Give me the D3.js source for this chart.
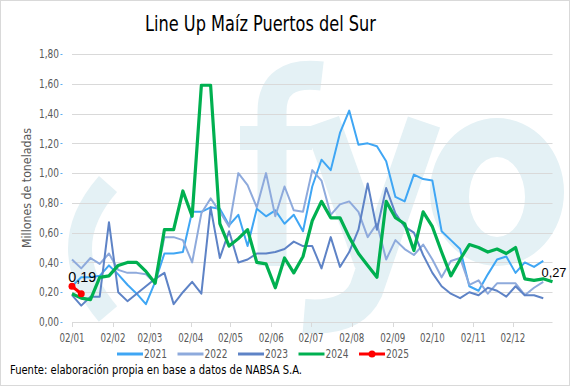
<!DOCTYPE html>
<html>
<head>
<meta charset="utf-8">
<script src="https://cdnjs.cloudflare.com/ajax/libs/d3/7.8.5/d3.min.js"></script>
<style>
  body { margin: 0; background: #fff; }
  svg { display: block; }
</style>
</head>
<body>
<div id="chart"></div>
<script>
const years = ["2021", "2022", "2023", "2024", "2025"];
const colors = ["#3fa6f4", "#8eaadc", "#5e83c6", "#00b050", "#ff0000"];
const widths = [2, 2, 2, 3.2, 3];
const tickLabels = ["02/01", "02/02", "02/03", "02/04", "02/05", "02/06", "02/07", "02/08", "02/09", "02/10", "02/11", "02/12"];
const yTicks = [0, 0.2, 0.4, 0.6, 0.8, 1.0, 1.2, 1.4, 1.6, 1.8];

// weekly values, millones de toneladas
const v2021 = [0.24, 0.30, 0.30, 0.31, 0.38, 0.32, 0.25, 0.19, 0.12, 0.27, 0.46, 0.46, 0.47, 0.74, 0.74, 0.77, 0.76, 0.65, 0.72, 0.51, 0.76, 0.71, 0.75, 0.66, 0.72, 0.61, 0.91, 1.09, 1.02, 1.27, 1.42, 1.19, 1.20, 1.18, 1.08, 0.84, 0.81, 0.99, 0.96, 0.95, 0.61, 0.55, 0.49, 0.24, 0.21, 0.32, 0.42, 0.44, 0.33, 0.40, 0.37, 0.41];
const v2022 = [0.42, 0.36, 0.43, 0.39, 0.46, 0.35, 0.33, 0.33, 0.32, 0.26, 0.57, 0.57, 0.55, 0.40, 0.73, 0.83, 0.74, 0.64, 1.00, 0.92, 0.77, 1.00, 0.71, 0.91, 0.75, 0.74, 1.02, 0.95, 0.72, 0.79, 0.81, 0.74, 0.57, 0.66, 0.42, 0.55, 0.49, 0.45, 0.52, 0.42, 0.30, 0.41, 0.43, 0.25, 0.28, 0.19, 0.26, 0.26, 0.26, 0.18, 0.23, 0.27];
const v2023 = [0.18, 0.11, 0.17, 0.17, 0.67, 0.20, 0.14, 0.19, 0.24, 0.29, 0.33, 0.12, 0.20, 0.27, 0.19, 0.77, 0.43, 0.61, 0.40, 0.42, 0.46, 0.46, 0.47, 0.49, 0.54, 0.51, 0.51, 0.36, 0.57, 0.37, 0.47, 0.62, 0.93, 0.62, 0.90, 0.73, 0.64, 0.60, 0.45, 0.33, 0.24, 0.19, 0.16, 0.20, 0.18, 0.23, 0.21, 0.17, 0.24, 0.18, 0.18, 0.16];
const v2024 = [0.19, 0.16, 0.15, 0.30, 0.31, 0.38, 0.40, 0.40, 0.34, 0.26, 0.62, 0.62, 0.88, 0.71, 1.59, 1.59, 0.66, 0.51, 0.56, 0.62, 0.40, 0.39, 0.23, 0.43, 0.33, 0.44, 0.68, 0.81, 0.70, 0.70, 0.57, 0.46, 0.38, 0.30, 0.81, 0.70, 0.66, 0.48, 0.74, 0.64, 0.47, 0.31, 0.42, 0.52, 0.50, 0.47, 0.49, 0.46, 0.50, 0.29, 0.28, 0.29, 0.27];
const v2025 = [0.24, 0.19];
const series = [v2021, v2022, v2023, v2024, v2025];

const W = 570, H = 386;
const font = "'Liberation Sans Narrow', 'DejaVu Sans Condensed', 'Roboto', sans-serif";
const fmt = d => d3.format(".2f")(d).replace(".", ",");

const svg = d3.select("#chart").append("svg")
    .attr("width", W)
    .attr("height", H);

svg.append("rect")
    .attr("x", 0.5).attr("y", 0.5)
    .attr("width", W - 1).attr("height", H - 1)
    .attr("fill", "#fff")
    .attr("stroke", "#d9d9d9");

// watermark logo "(fyo", drawn as shapes
const wmColor = "#e4f1f5";
const wm = svg.append("g").attr("fill", "none").attr("stroke", wmColor);
wm.append("path").attr("d", "M108,184 Q52,248 108,314").attr("stroke-width", 24);
wm.append("path").attr("d", "M272,266 L272,112 Q272,70 322,76").attr("stroke-width", 29);
wm.append("path").attr("d", "M240,138 L312,138").attr("stroke-width", 24);
wm.append("path").attr("d", "M322,122 L372,262").attr("stroke-width", 36);
wm.append("path").attr("d", "M424,122 L366,290 Q352,320 304,316").attr("stroke-width", 34);
wm.append("path")
    .attr("d", "M430,192 a67,74 0 1,0 134,0 a67,74 0 1,0 -134,0 Z M469,197 a28,40 0 1,1 56,0 a28,40 0 1,1 -56,0 Z")
    .attr("stroke", "none")
    .attr("fill", wmColor)
    .attr("fill-rule", "evenodd");

const parse = d3.timeParse("%d/%m/%Y");
const start = parse("02/01/2023");
const end = d3.timeDay.offset(start, 7 * 52);
const weekDate = i => d3.timeDay.offset(start, 7 * i);

const x = d3.scaleTime().domain([start, end]).range([72, 552.5]);
const y = d3.scaleLinear().domain([0, 1.8]).range([322, 54]);

// grid
svg.append("g").selectAll("line")
    .data(yTicks)
    .enter().append("line")
    .attr("x1", 72).attr("x2", 552.5)
    .attr("y1", d => Math.round(y(d)) + 0.5)
    .attr("y2", d => Math.round(y(d)) + 0.5)
    .attr("stroke", "#d9d9d9")
    .attr("stroke-width", 1);

// small y ticks
svg.append("g").selectAll("line")
    .data(yTicks)
    .enter().append("line")
    .attr("x1", 60.5).attr("x2", 62.5)
    .attr("y1", d => Math.round(y(d)) + 0.5)
    .attr("y2", d => Math.round(y(d)) + 0.5)
    .attr("stroke", "#5aaef0");

// y labels
svg.append("g").attr("font-family", font).attr("font-size", 12).attr("fill", "#595959")
    .selectAll("text")
    .data(yTicks)
    .enter().append("text")
    .attr("x", 59)
    .attr("y", d => y(d))
    .attr("dy", "0.35em")
    .attr("text-anchor", "end")
    .attr("textLength", 20)
    .attr("lengthAdjust", "spacingAndGlyphs")
    .text(fmt);

// x ticks and labels
const tickDates = tickLabels.map(t => parse(t + "/2023"));
svg.append("g").selectAll("line")
    .data(tickDates)
    .enter().append("line")
    .attr("x1", d => Math.round(x(d)) + 0.5)
    .attr("x2", d => Math.round(x(d)) + 0.5)
    .attr("y1", 322).attr("y2", 327)
    .attr("stroke", "#d9d9d9");
svg.append("g").attr("font-family", font).attr("font-size", 12).attr("fill", "#595959")
    .selectAll("text")
    .data(tickLabels)
    .enter().append("text")
    .attr("x", (d, i) => x(tickDates[i]) - 12.5)
    .attr("y", 342)
    .attr("textLength", 25)
    .attr("lengthAdjust", "spacingAndGlyphs")
    .text(d => d);

// y title
svg.append("text")
    .attr("transform", "translate(31,248) rotate(-90)")
    .attr("font-family", font)
    .attr("font-size", 12)
    .attr("textLength", 120)
    .attr("lengthAdjust", "spacingAndGlyphs")
    .attr("fill", "#595959")
    .text("Millones de toneladas");

// lines
const line = d3.line()
    .x((d, i) => x(weekDate(i)))
    .y(d => y(d));

series.forEach((vals, k) => {
    svg.append("path")
        .datum(vals)
        .attr("fill", "none")
        .attr("stroke", colors[k])
        .attr("stroke-width", widths[k])
        .attr("stroke-linejoin", "round")
        .attr("d", line);
});

svg.append("g").selectAll("circle")
    .data(v2025)
    .enter().append("circle")
    .attr("cx", (d, i) => x(weekDate(i)))
    .attr("cy", d => y(d))
    .attr("r", 3.5)
    .attr("fill", colors[4]);

// data labels
const last25 = v2025.length - 1, last24 = v2024.length - 1;
svg.append("text")
    .attr("x", x(weekDate(last25)) - 13)
    .attr("y", y(v2025[last25]) - 12)
    .attr("font-family", "'Liberation Sans', sans-serif")
    .attr("font-size", 14)
    .attr("textLength", 28)
    .attr("lengthAdjust", "spacingAndGlyphs")
    .attr("fill", "#000")
    .text(fmt(v2025[last25]));
svg.append("text")
    .attr("x", x(weekDate(last24)) - 11)
    .attr("y", y(v2024[last24]) - 5)
    .attr("font-family", "'Liberation Sans', sans-serif")
    .attr("font-size", 13)
    .attr("textLength", 25)
    .attr("lengthAdjust", "spacingAndGlyphs")
    .attr("fill", "#000")
    .text(fmt(v2024[last24]));

// legend
const legend = svg.append("g")
    .selectAll("g")
    .data(years)
    .enter().append("g")
    .attr("transform", (d, i) => `translate(${117 + i * 60.5}, 354)`);
legend.append("line")
    .attr("x1", 0).attr("x2", 26)
    .attr("stroke", (d, i) => colors[i])
    .attr("stroke-width", 3);
legend.filter((d, i) => i === 4).append("circle")
    .attr("cx", 13).attr("r", 3.5)
    .attr("fill", colors[4]);
legend.append("text")
    .attr("x", 27)
    .attr("dy", "0.35em")
    .attr("font-family", font)
    .attr("font-size", 12)
    .attr("textLength", 23)
    .attr("lengthAdjust", "spacingAndGlyphs")
    .attr("fill", "#595959")
    .text(d => d);

// title
svg.append("text")
    .attr("x", 145)
    .attr("y", 31)
    .attr("font-family", font)
    .attr("font-size", 22)
    .attr("textLength", 231)
    .attr("lengthAdjust", "spacingAndGlyphs")
    .attr("fill", "#000")
    .text("Line Up Maíz Puertos del Sur");

// source
svg.append("text")
    .attr("x", 10)
    .attr("y", 374)
    .attr("font-family", font)
    .attr("font-size", 12.5)
    .attr("textLength", 292)
    .attr("lengthAdjust", "spacingAndGlyphs")
    .attr("fill", "#000")
    .text("Fuente: elaboración propia en base a datos de NABSA S.A.");
</script>
</body>
</html>
